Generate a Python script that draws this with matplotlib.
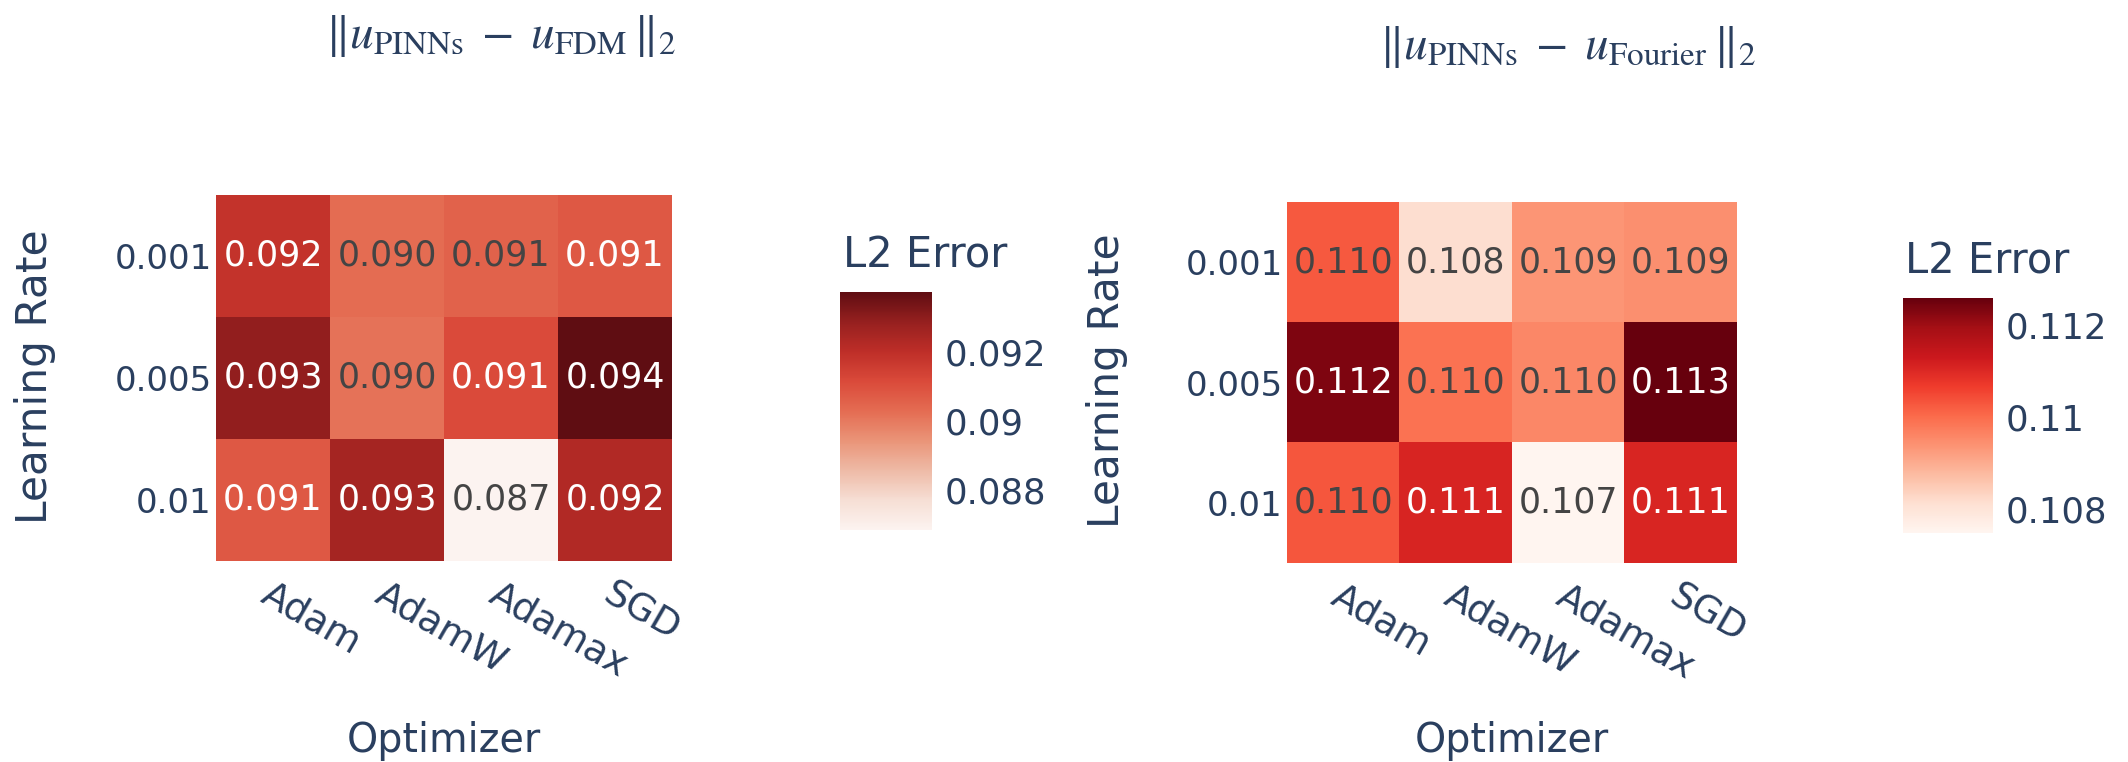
import numpy as np
import matplotlib
matplotlib.use("Agg")
import matplotlib.pyplot as plt
from matplotlib.colors import LinearSegmentedColormap
from matplotlib.ticker import FixedLocator, FuncFormatter
from matplotlib.transforms import ScaledTranslation

plt.rcParams["font.family"] = ["DejaVu Sans"]
plt.rcParams["mathtext.fontset"] = "stix"

# ---- data -------------------------------------------------------------
optimizers = ["Adam", "AdamW", "Adamax", "SGD"]
learning_rates = ["0.001", "0.005", "0.01"]

# L2 error of PINNs vs. finite-difference reference (rows: learning rate)
err_fdm = [
    [0.09184, 0.09029, 0.09052, 0.09079],
    [0.09291, 0.09015, 0.09115, 0.09374],
    [0.09080, 0.09255, 0.08684, 0.09227],
]
# L2 error of PINNs vs. Fourier spectral reference
err_fourier = [
    [0.11026, 0.10814, 0.10934, 0.10944],
    [0.11233, 0.10990, 0.10956, 0.11259],
    [0.11030, 0.11109, 0.10747, 0.11105],
]

cbar_ticks_fdm = [0.088, 0.090, 0.092]
cbar_ticks_fourier = [0.108, 0.110, 0.112]

# ---- styling ----------------------------------------------------------
FONT_COLOR = "#2a3f5f"
DARK_TEXT = "#444444"

reds = LinearSegmentedColormap.from_list(
    "reds",
    [np.array(c) / 255 for c in [
        (255, 245, 240), (254, 224, 210), (252, 187, 161), (252, 146, 114),
        (251, 106, 74), (239, 59, 44), (203, 24, 29), (165, 15, 21), (103, 0, 13)]],
)
reds_soft = LinearSegmentedColormap.from_list(
    "reds_soft",
    [np.array(c) / 255 for c in [
        (252, 243, 240), (246, 222, 212), (238, 186, 166), (234, 148, 120),
        (228, 108, 82), (218, 74, 58), (190, 46, 40), (150, 32, 31), (95, 13, 18)]],
)

W, H = 2128, 762
fig = plt.figure(figsize=(W / 100, H / 100), dpi=100)
fig.patch.set_facecolor("white")


def fx(px):
    return px / W


def fy(py):
    return 1 - py / H


def draw_panel(values, cmap, ticks, ax_box, cb_box, title, title_xy,
               ylabel_xy, xlabel_xy, cbtitle_xy):
    z = np.array(values)
    vmin, vmax = z.min(), z.max()
    x0, y0, x1, y1 = ax_box
    ax = fig.add_axes([fx(x0), fy(y1), fx(x1 - x0), (y1 - y0) / H])
    im = ax.imshow(z, cmap=cmap, vmin=vmin, vmax=vmax, aspect="auto",
                   interpolation="nearest")
    for s in ax.spines.values():
        s.set_visible(False)
    ax.set_xticks(range(len(optimizers)))
    ax.set_xticklabels(optimizers, rotation=-30, ha="left", va="top",
                       rotation_mode="anchor", fontsize=27, color=FONT_COLOR)
    shift = ScaledTranslation(8 / 100, 0, fig.dpi_scale_trans)
    for lab in ax.get_xticklabels():
        lab.set_transform(lab.get_transform() + shift)
    ax.set_yticks(range(len(learning_rates)))
    ax.set_yticklabels(learning_rates, fontsize=24.5, color=FONT_COLOR)
    ax.tick_params(axis="x", length=0, pad=11)
    ax.tick_params(axis="y", length=0, pad=3)

    norm = im.norm
    for i in range(z.shape[0]):
        for j in range(z.shape[1]):
            r, g, b, _ = cmap(norm(z[i, j]))
            bright = (r * 299 + g * 587 + b * 114) / 1000 * 255
            tc = DARK_TEXT if bright >= 128 else "white"
            ax.text(j, i, f"{z[i, j]:.3f}", ha="center", va="center",
                    fontsize=25, color=tc)

    cx0, cy0, cx1, cy1 = cb_box
    cax = fig.add_axes([fx(cx0), fy(cy1), fx(cx1 - cx0), (cy1 - cy0) / H])
    cb = fig.colorbar(im, cax=cax)
    cb.outline.set_visible(False)
    cb.ax.yaxis.set_major_locator(FixedLocator(ticks))
    cb.ax.yaxis.set_major_formatter(FuncFormatter(lambda v, p: f"{v:g}"))
    cb.ax.tick_params(length=0, pad=9, labelsize=25.5, labelcolor=FONT_COLOR)

    fig.text(fx(title_xy[0]), fy(title_xy[1]), title, ha="center",
             va="center", fontsize=34, color=FONT_COLOR)
    fig.text(fx(ylabel_xy[0]), fy(ylabel_xy[1]), "Learning Rate",
             rotation=90, ha="center", va="center", fontsize=30.5,
             color=FONT_COLOR)
    fig.text(fx(xlabel_xy[0]), fy(xlabel_xy[1]), "Optimizer", ha="center",
             va="baseline", fontsize=28.5, color=FONT_COLOR)
    fig.text(fx(cbtitle_xy[0]), fy(cbtitle_xy[1]), "L2 Error", ha="left",
             va="baseline", fontsize=30, color=FONT_COLOR)


draw_panel(err_fdm, reds_soft, cbar_ticks_fdm,
           (216, 195, 672, 561), (840, 292, 932, 530),
           r"$\Vert u_{\mathrm{PINNs}} \;-\; u_{\mathrm{FDM}}\,\Vert_2$",
           (501, 36), (35, 377), (444, 752), (843, 267))
draw_panel(err_fourier, reds, cbar_ticks_fourier,
           (1287, 202, 1737, 563), (1903, 298, 1993, 533),
           r"$\Vert u_{\mathrm{PINNs}} \;-\; u_{\mathrm{Fourier}}\,\Vert_2$",
           (1568, 47), (1107, 381), (1512, 752), (1905, 273))

fig.savefig("out.png", dpi=100, facecolor="white")
